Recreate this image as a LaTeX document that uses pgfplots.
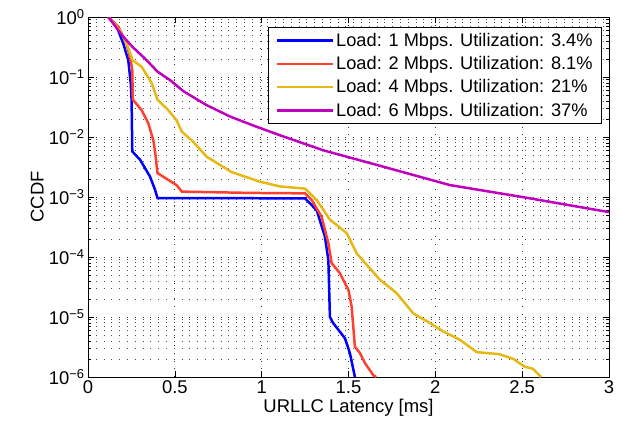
\documentclass[border=0pt]{standalone}
\usepackage{fontspec}
\setmainfont{Liberation Sans}
\usepackage{pgfplots}
\pgfplotsset{compat=1.18}
\definecolor{cblue}{rgb}{0,0,1}
\definecolor{cred}{rgb}{1,0.25,0.18}
\definecolor{cyel}{rgb}{0.9,0.72,0.08}
\definecolor{cmag}{rgb}{0.75,0,0.75}
\begin{document}
\begin{tikzpicture}
\begin{axis}[name=ax,
  scale only axis, width=521bp, height=360bp,
  ymode=log, xmin=0, xmax=3, ymin=1e-6, ymax=1,
  xtick={0,0.5,1,1.5,2,2.5,3},
  xticklabels={0,0.5,1,1.5,2,2.5,3},
  ytick={1e-6,1e-5,1e-4,1e-3,1e-2,1e-1,1},
  yticklabels={10\textsuperscript{−6},10\textsuperscript{−5},10\textsuperscript{−4},10\textsuperscript{−3},10\textsuperscript{−2},10\textsuperscript{−1},10\textsuperscript{0}},
  tick align=inside,
  xmajorgrids, ymajorgrids, yminorgrids,
  major grid style={black!80, dash pattern=on 0.8bp off 7bp, line width=0.7pt},
  minor grid style={black!70, dash pattern=on 0.8bp off 7bp, line width=0.7pt},
  axis line style={black, line width=0.8pt},
  tick style={black, line width=0.6pt},
  major tick length=6bp, minor tick length=3bp,
  ticklabel style={font=\fontsize{18.5}{22}\selectfont},
  label style={font=\fontsize{18.5}{22}\selectfont},
  xlabel={URLLC Latency [ms]},
  ylabel={CCDF},
  xlabel style={yshift=1bp},
  ylabel style={yshift=-2bp},
  legend style={font=\fontsize{18.3}{22}\selectfont, at={(1,1)}, xshift=-7bp, yshift=-10bp, anchor=north east,
    draw=black, line width=0.8pt, inner xsep=7bp, inner ysep=4bp, row sep=4.5bp},
  legend cell align=left,
  legend image code/.code={\draw[#1, line width=2.5pt] (0cm,0cm) -- (1.98cm,0cm);},
]
\addplot[cblue, line width=2.5pt] coordinates {(0.117,1)(0.165,0.692)(0.203,0.363)(0.232,0.19)(0.246,0.079)(0.251,0.042)(0.255,5.75e-3)(0.30,4.17e-3)(0.357,2.19e-3)(0.386,1.32e-3)(0.40,9.6e-4)(1.25,9.5e-4)(1.317,6.0e-4)(1.364,2.2e-4)(1.384,8.9e-5)(1.393,1e-5)(1.412,7.9e-6)(1.48,4.4e-6)(1.508,2.5e-6)(1.537,1.0e-6)};
\addlegendentry{Load: 1 Mbps. Utilization: 3.4\%}
\addplot[cred, line width=2.5pt] coordinates {(0.117,1)(0.175,0.69)(0.222,0.363)(0.246,0.19)(0.255,0.13)(0.258,0.042)(0.309,0.028)(0.347,0.017)(0.376,8.9e-3)(0.39,4.7e-3)(0.40,2.5e-3)(0.51,1.58e-3)(0.54,1.23e-3)(0.933,1.17e-3)(1.25,1.15e-3)(1.288,8.9e-4)(1.345,4.7e-4)(1.384,1.7e-4)(1.403,7.9e-5)(1.45,5.4e-5)(1.50,2.8e-5)(1.518,1.5e-5)(1.537,3.2e-6)(1.566,2.5e-6)(1.595,1.7e-6)(1.643,1.07e-6)(1.66,1e-6)};
\addlegendentry{Load: 2 Mbps. Utilization: 8.1\%}
\addplot[cyel, line width=2.5pt] coordinates {(0.117,1)(0.184,0.6)(0.222,0.363)(0.257,0.19)(0.309,0.148)(0.367,0.079)(0.40,0.042)(0.462,0.028)(0.51,0.019)(0.54,0.0123)(0.606,8.3e-3)(0.683,4.7e-3)(0.827,2.6e-3)(0.99,1.8e-3)(1.105,1.5e-3)(1.25,1.38e-3)(1.317,8.9e-4)(1.393,4.2e-4)(1.49,2.5e-4)(1.547,1.15e-4)(1.68,4.2e-5)(1.777,2.5e-5)(1.873,1.15e-5)(1.97,7.9e-6)(2.045,5.75e-6)(2.14,4.2e-6)(2.238,2.6e-6)(2.37,2.4e-6)(2.449,2.0e-6)(2.516,1.48e-6)(2.56,1.38e-6)(2.61,1e-6)};
\addlegendentry{Load: 4 Mbps. Utilization: 21\%}
\addplot[cmag, line width=2.5pt] coordinates {(0.117,1)(0.203,0.47)(0.257,0.316)(0.338,0.19)(0.40,0.123)(0.472,0.089)(0.549,0.058)(0.683,0.034)(0.817,0.022)(0.971,0.0148)(1.105,0.0107)(1.355,6.0e-3)(1.7,3.2e-3)(2.084,1.58e-3)(2.5,1.0e-3)(3,5.6e-4)};
\addlegendentry{Load: 6 Mbps. Utilization: 37\%}
\end{axis}
\pgfresetboundingbox
\path (ax.south west) ++(-88bp,-55bp) rectangle ++(622bp,432bp);
\end{tikzpicture}
\end{document}
